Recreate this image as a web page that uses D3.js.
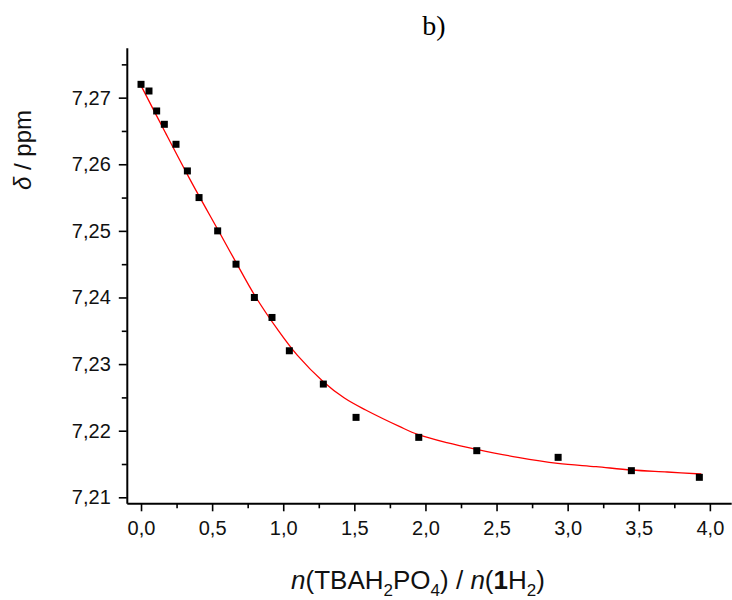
<!DOCTYPE html>
<html><head><meta charset="utf-8">
<script src="https://cdn.jsdelivr.net/npm/d3@7"></script>
<style>body{margin:0;background:#fff}svg{display:block}</style>
</head><body>
<script>
// measured data points
const ratio = [0, 0.056, 0.11, 0.164, 0.246, 0.326, 0.408, 0.539, 0.668, 0.797, 0.921, 1.043, 1.282, 1.512, 1.953, 2.361, 2.933, 3.448, 3.926];
const shift = [7.272, 7.271, 7.268, 7.266, 7.263, 7.259, 7.255, 7.250, 7.245, 7.240, 7.237, 7.232, 7.227, 7.222, 7.219, 7.217, 7.216, 7.214, 7.213];
// fitted curve
const fitX = [0, 0.17, 0.345, 0.54, 0.67, 0.8, 0.96, 1.1, 1.28, 1.43, 1.58, 1.82, 1.95, 2.15, 2.36, 2.65, 2.93, 3.2, 3.45, 3.7, 3.94];
const fitY = [7.2718, 7.2648, 7.2577, 7.2502, 7.2452, 7.2403, 7.2352, 7.2313, 7.2274, 7.2249, 7.2231, 7.2206, 7.2194, 7.2182, 7.2172, 7.2160, 7.2151, 7.2146, 7.2141, 7.2138, 7.2135];
const xMajor = [0, 0.5, 1, 1.5, 2, 2.5, 3, 3.5, 4];
const xMinor = [0.25, 0.75, 1.25, 1.75, 2.25, 2.75, 3.25, 3.75];
const yMajor = [7.21, 7.22, 7.23, 7.24, 7.25, 7.26, 7.27];
const yMinor = [7.215, 7.225, 7.235, 7.245, 7.255, 7.265, 7.275];

const W = 732, H = 600;
const svg = d3.select("body").append("svg").attr("width", W).attr("height", H);
const x = d3.scaleLinear().domain([-0.1, 4.15]).range([126.8, 731.2]);
const y = d3.scaleLinear().domain([7.2091, 7.2775]).range([503.3, 47.7]);
const loc = d3.formatLocale({decimal: ",", thousands: ".", grouping: [3], currency: ["", ""]});
const fx = loc.format(".1f"), fy = loc.format(".2f");
const font = "'Liberation Sans', Arial, sans-serif";

// axes
const gx = svg.append("g").attr("transform", `translate(0,${y.range()[0]})`);
gx.call(d3.axisBottom(x).tickValues(xMajor).tickFormat(fx).tickSize(8).tickSizeOuter(0).tickPadding(6));
const gxm = svg.append("g").attr("transform", `translate(0,${y.range()[0]})`);
gxm.call(d3.axisBottom(x).tickValues(xMinor).tickFormat("").tickSize(5).tickSizeOuter(0));
const gy = svg.append("g").attr("transform", `translate(${x.range()[0]},0)`);
gy.call(d3.axisLeft(y).tickValues(yMajor).tickFormat(fy).tickSize(8).tickSizeOuter(0).tickPadding(8));
const gym = svg.append("g").attr("transform", `translate(${x.range()[0]},0)`);
gym.call(d3.axisLeft(y).tickValues(yMinor).tickFormat("").tickSize(5).tickSizeOuter(0));
svg.selectAll(".domain").attr("stroke", "#000").attr("stroke-width", 2);
svg.selectAll(".tick line").attr("stroke", "#000").attr("stroke-width", 1.6);
svg.selectAll(".tick text").attr("font-family", font).attr("font-size", 20).attr("fill", "#111");
gxm.select(".domain").remove(); gym.select(".domain").remove();
gx.selectAll(".tick text").attr("dy", "0.9em");

// fit curve
const line = d3.line().x((d, i) => x(fitX[i])).y((d, i) => y(fitY[i])).curve(d3.curveCatmullRom.alpha(0.5));
svg.append("path").attr("d", line(fitX)).attr("fill", "none").attr("stroke", "#f00").attr("stroke-width", 1.3);

// points
const s = 7;
svg.append("g").selectAll("rect").data(ratio).join("rect")
  .attr("x", (d) => x(d) - s / 2).attr("y", (d, i) => y(shift[i]) - s / 2)
  .attr("width", s).attr("height", s).attr("fill", "#000");

// titles
svg.append("text").attr("x", 434).attr("y", 35).attr("text-anchor", "middle")
  .attr("font-family", "'Liberation Serif', 'Times New Roman', serif").attr("font-size", 28).text("b)");

const xt = svg.append("text").attr("x", 418).attr("y", 589).attr("text-anchor", "middle")
  .attr("font-family", font).attr("font-size", 26).attr("fill", "#111");
xt.append("tspan").attr("font-style", "italic").text("n");
xt.append("tspan").text("(TBAH");
xt.append("tspan").attr("font-size", 17).attr("dy", 7).text("2");
xt.append("tspan").attr("dy", -7).text("PO");
xt.append("tspan").attr("font-size", 17).attr("dy", 7).text("4");
xt.append("tspan").attr("dy", -7).text(") / ");
xt.append("tspan").attr("font-style", "italic").text("n");
xt.append("tspan").text("(");
xt.append("tspan").attr("font-weight", "bold").text("1");
xt.append("tspan").text("H");
xt.append("tspan").attr("font-size", 17).attr("dy", 7).text("2");
xt.append("tspan").attr("dy", -7).text(")");

const yt = svg.append("text").attr("transform", "translate(31,150) rotate(-90)").attr("text-anchor", "middle")
  .attr("font-family", font).attr("font-size", 24).attr("fill", "#111");
yt.append("tspan").attr("font-style", "italic").text("δ");
yt.append("tspan").text(" / ppm");
</script>
</body></html>
